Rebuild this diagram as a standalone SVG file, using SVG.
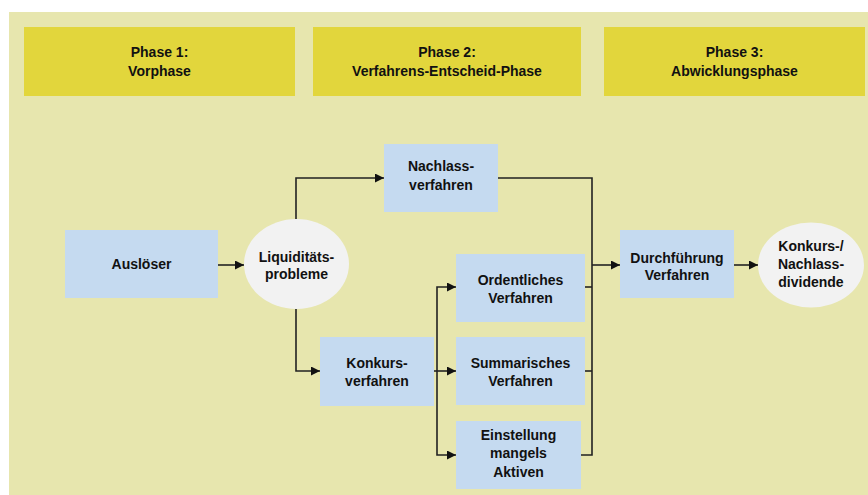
<svg xmlns="http://www.w3.org/2000/svg" width="868" height="495" viewBox="0 0 868 495">
<defs>
<marker id="ah" viewBox="0 0 10 10" refX="10" refY="5" markerWidth="9" markerHeight="9" markerUnits="userSpaceOnUse" orient="auto">
<path d="M0,0 L10,5 L0,10 Z" fill="#111"/>
</marker>
</defs>
<style>
text{font-family:"Liberation Sans Narrow","Liberation Sans",Arial,sans-serif;font-weight:bold;font-size:14px;fill:#111;text-anchor:middle}
.phase{fill:#E2D63C}
.box{fill:#C5DAF0}
.ell{fill:#F2F2F2}
.ln{fill:none;stroke:#222;stroke-width:1.6}
.ar{fill:none;stroke:#222;stroke-width:1.6;marker-end:url(#ah)}
</style>
<rect x="9" y="12" width="859" height="483" fill="#E7E6AE"/>
<g id="phase1"><rect class="phase" x="24" y="27" width="271" height="69"/><text x="159.5" y="57">Phase 1:</text><text x="159.5" y="76">Vorphase</text></g>
<g id="phase2"><rect class="phase" x="313" y="27" width="268" height="69"/><text x="447" y="57">Phase 2:</text><text x="447" y="76">Verfahrens-Entscheid-Phase</text></g>
<g id="phase3"><rect class="phase" x="604" y="27" width="261" height="69"/><text x="734.5" y="57">Phase 3:</text><text x="734.5" y="76">Abwicklungsphase</text></g>
<g id="connectors">
<path class="ar" d="M218,265 H244"/>
<path class="ar" d="M296,219 V178 H384"/>
<path class="ar" d="M296,309 V371 H320"/>
<path class="ln" d="M498,178 H592 V455 H581"/>
<path class="ln" d="M585,287 H592"/>
<path class="ln" d="M585,371 H592"/>
<path class="ar" d="M592,265 H620"/>
<path class="ar" d="M734,265 H758"/>
<path class="ar" d="M434,371 H456"/>
<path class="ar" d="M437,371 V287 H456"/>
<path class="ar" d="M437,371 V455 H456"/>
</g>
<g id="ausloeser"><rect class="box" x="65" y="230" width="153" height="68"/><text x="141.5" y="269">Auslöser</text></g>
<g id="liquiditaet"><ellipse class="ell" cx="296.5" cy="264" rx="52.5" ry="45"/><text x="296.5" y="262">Liquiditäts-</text><text x="296.5" y="279">probleme</text></g>
<g id="nachlass"><rect class="box" x="384" y="144" width="114" height="68"/><text x="441" y="171">Nachlass-</text><text x="441" y="190">verfahren</text></g>
<g id="konkurs"><rect class="box" x="320" y="337" width="114" height="69"/><text x="377" y="368">Konkurs-</text><text x="377" y="386">verfahren</text></g>
<g id="ordentlich"><rect class="box" x="456" y="254" width="129" height="68"/><text x="520.5" y="285">Ordentliches</text><text x="520.5" y="303">Verfahren</text></g>
<g id="summarisch"><rect class="box" x="456" y="337" width="129" height="68"/><text x="520.5" y="368">Summarisches</text><text x="520.5" y="386">Verfahren</text></g>
<g id="einstellung"><rect class="box" x="456" y="421" width="125" height="68"/><text x="518.5" y="440">Einstellung</text><text x="518.5" y="458">mangels</text><text x="518.5" y="477">Aktiven</text></g>
<g id="durchfuehrung"><rect class="box" x="620" y="230" width="114" height="68"/><text x="677" y="263">Durchführung</text><text x="677" y="280">Verfahren</text></g>
<g id="dividende"><ellipse class="ell" cx="811" cy="265" rx="53" ry="42.5"/><text x="811" y="251">Konkurs-/</text><text x="811" y="269">Nachlass-</text><text x="811" y="287">dividende</text></g>
</svg>
